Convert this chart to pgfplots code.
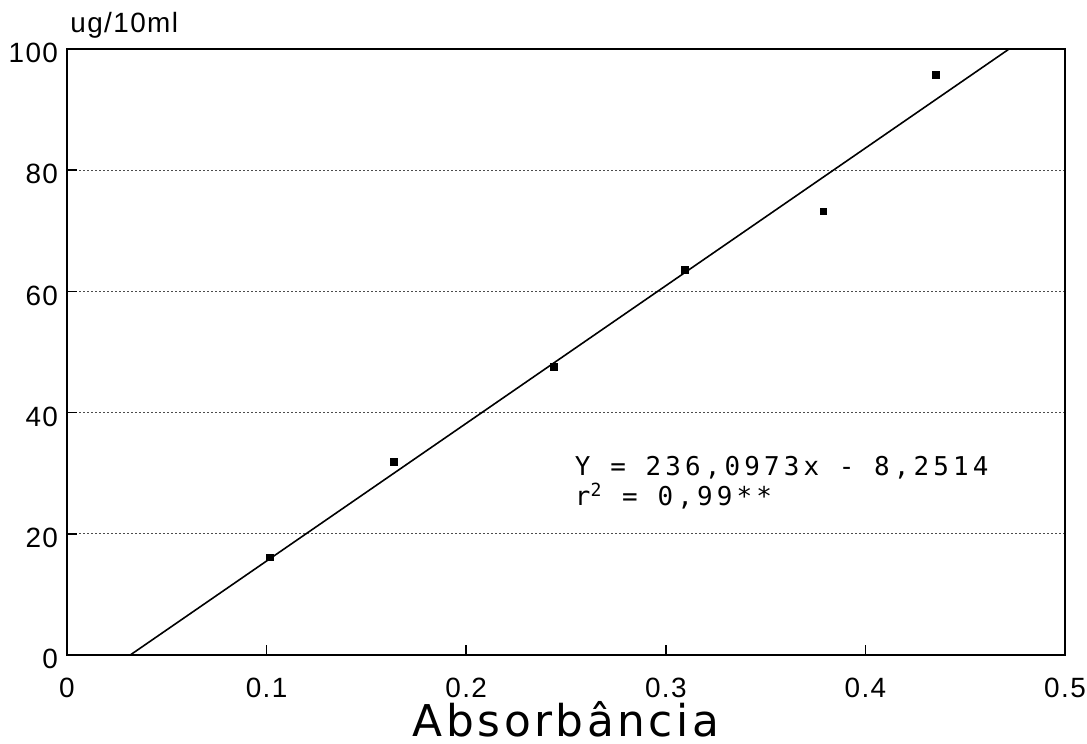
\documentclass[border=0pt]{standalone}
\usepackage{fontspec}
\setmainfont{Liberation Sans}
\newfontfamily\plotter[LetterSpace=16]{DejaVu Sans Mono}
\newfontfamily\ticksfont[LetterSpace=5]{Liberation Sans}
\newfontfamily\labelfont[LetterSpace=8]{DejaVu Sans}
\usepackage{pgfplots}
\pgfplotsset{compat=1.18}

\begin{document}
\begin{tikzpicture}[x=1bp,y=1bp]
\begin{axis}[
  scale only axis,
  width=499bp, height=303bp,
  at={(33.5bp,44.5bp)}, anchor=south west,
  xmin=0, xmax=0.5, ymin=0, ymax=100,
  xtick={0,0.1,0.2,0.3,0.4,0.5},
  xticklabels={0,0.1,0.2,0.3,0.4,0.5},
  ytick={0,20,40,60,80,100},
  yticklabels={0,20,40,60,80,100},
  xtick pos=bottom, ytick pos=left,
  tick align=inside,
  major tick length=5bp,
  tick style={black, line width=0.8bp},
  axis line style={line width=1.1bp},
  ymajorgrids,
  grid style={black!70, line width=0.6bp, dash pattern=on 1.2bp off 0.8bp},
  tick label style={font=\ticksfont\fontsize{14}{16}\selectfont},
  xticklabel style={yshift=-8bp},
  yticklabel style={xshift=-1bp, yshift=-2bp},
  /pgf/number format/assume math mode=true,
  clip=false,
]
% fitted line
\addplot[black, line width=0.8bp] coordinates {(0.0317,0) (0.472,100)};
% observed points
\addplot[only marks, mark=square*, mark size=1.7bp, black] coordinates {
  (0.1017,16.1) (0.1637,31.9) (0.244,47.6) (0.3097,63.5) (0.379,73.2) (0.4353,95.7)};
\node[anchor=base west, font=\ticksfont\fontsize{14}{16}\selectfont, inner sep=0pt]
  at (rel axis cs:0.003,1) [yshift=8bp] {ug/10ml};
\node[anchor=base, font=\labelfont\fontsize{22}{25}\selectfont, inner sep=0pt]
  at (rel axis cs:0.5,0) [yshift=-40.5bp] {Absorbância};
\node[anchor=base west, font=\plotter\fontsize{13}{15}\selectfont, inner sep=0pt]
  at (axis cs:0.2543,29.7) {Y = 236,0973x - 8,2514};
\node[anchor=base west, font=\plotter\fontsize{13}{15}\selectfont, inner sep=0pt]
  at (axis cs:0.2543,24.75) {r\textsuperscript{2} = 0,99**};
\end{axis}
\pgfresetboundingbox
\path (0,0) rectangle (543.5bp,372bp);
\end{tikzpicture}
\end{document}
